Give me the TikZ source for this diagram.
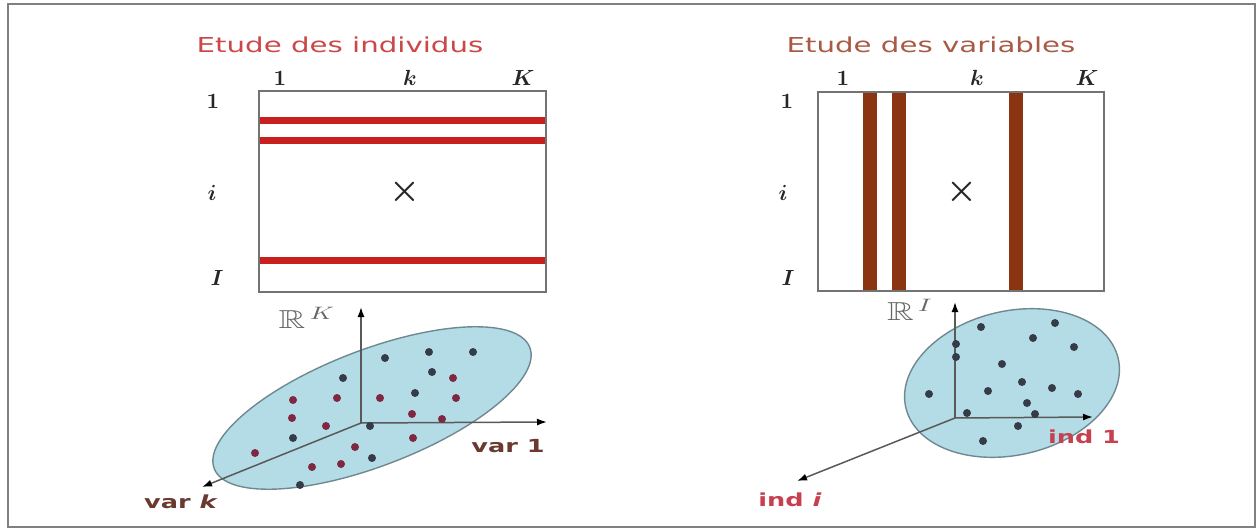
\documentclass[tikz,border=0pt]{standalone}
\usepackage{amsmath,amssymb,bm}
\usepackage{fontspec}
\setsansfont{DejaVu Sans}
\usetikzlibrary{arrows.meta}

\definecolor{titlered}{HTML}{CC4848}
\definecolor{titlebrown}{HTML}{A85A44}
\definecolor{rowred}{HTML}{C8201E}
\definecolor{colbrown}{HTML}{8A3412}
\definecolor{cloudblue}{HTML}{B4DCE6}
\definecolor{cloudedge}{HTML}{708890}
\definecolor{dotdark}{HTML}{353C48}
\definecolor{dotred}{HTML}{7E2842}
\definecolor{varbrown}{HTML}{6A3A30}
\definecolor{indred}{HTML}{C84050}
\newcommand{\wide}[1]{\scalebox{1.42}[1]{#1}}

\tikzset{
  title/.style={font=\sffamily\fontsize{10.3}{12}\selectfont, inner sep=0pt},
  axlabel/.style={font=\sffamily\bfseries\fontsize{9}{11}\selectfont, inner sep=0pt},
  idx/.style={font=\fontsize{11}{13}\selectfont, text=black!85, inner sep=0pt},
  space/.style={font=\fontsize{13}{15}\selectfont, text=black!60, inner sep=0pt},
  matbox/.style={draw=black!55, line width=0.8pt},
  axis/.style={draw=black!65, line width=0.75pt, -{Latex[length=5pt,width=3.5pt,color=black]}},
  cloud/.style={fill=cloudblue, draw=cloudedge, line width=0.7pt},
}

\begin{document}
\begin{tikzpicture}[x=0.5pt,y=-0.5pt]
\useasboundingbox (0,0) rectangle (1258,529);
\draw[black!50, line width=1.2pt] (8,4) rectangle (1255,527);
% titles
\node[title, text=titlered] (titleind) at (340,45) {\wide{Etude des individus}};
\node[title, text=titlebrown] (titlevar) at (931,45) {\wide{Etude des variables}};
% left table: rows picked
\foreach \yy in {121,141,261} {\fill[rowred] (259,\yy-3.5) rectangle (546,\yy+3.5);}
\draw[matbox] (259,91) rectangle (546,292);
\node[idx] (colA1) at (280,78) {$\bm{1}$};
\node[idx] (colAk) at (410,78) {$\bm{k}$};
\node[idx] (colAK) at (523,78) {$\bm{K}$};
\node[idx] (rowA1) at (213,101) {$\bm{1}$};
\node[idx] (rowAi) at (212,193) {$\bm{i}$};
\node[idx] (rowAI) at (217,278) {$\bm{I}$};
\node[idx, font=\fontsize{16}{18}\selectfont] (xA) at (405,192) {$\bm{\times}$};
% right table: columns picked
\foreach \xx in {870,899,1016} {\fill[colbrown] (\xx-7,92) rectangle (\xx+7,291);}
\draw[matbox] (818,92) rectangle (1104,291);
\node[idx] (colB1) at (843,78) {$\bm{1}$};
\node[idx] (colBk) at (977,78) {$\bm{k}$};
\node[idx] (colBK) at (1087,78) {$\bm{K}$};
\node[idx] (rowB1) at (787,101) {$\bm{1}$};
\node[idx] (rowBi) at (783,193) {$\bm{i}$};
\node[idx] (rowBI) at (788,278) {$\bm{I}$};
\node[idx, font=\fontsize{16}{18}\selectfont] (xB) at (962,192) {$\bm{\times}$};
% cloud of individuals in R^K
\path[cloud, rotate around={21:(372,408)}] (372,408) ellipse [x radius=169, y radius=58];
\coordinate (oA) at (361,423);
\coordinate (oAup) at (361,307);
\coordinate (oAone) at (547,422);
\coordinate (oAk) at (202,487);
\draw[axis] (oA) -- (oAup);
\draw[axis] (oA) -- (oAone);
\draw[axis] (oA) -- (oAk);
\foreach \px/\py/\cc in {385/358/dotdark,429/352/dotdark,473/352/dotdark,343/378/dotdark,
  432/372/dotdark,453/378/dotred,293/400/dotred,337/398/dotred,380/398/dotred,415/393/dotdark,
  456/398/dotred,292/418/dotred,326/426/dotred,412/414/dotred,442/419/dotred,370/426/dotdark,
  293/438/dotdark,413/438/dotred,255/453/dotred,355/447/dotred,372/458/dotdark,312/467/dotred,
  341/464/dotred,300/485/dotdark}
  {\fill[\cc] (\px,\py) circle (4);}
\node[space] (spaceK) at (307,318) {\wide{$\mathbb{R}^{\,K}$}};
\node[axlabel, text=varbrown] (varone) at (508,446) {\wide{var 1}};
\node[axlabel, text=varbrown] (vark) at (181,502) {\wide{var \textit{k}}};
% cloud of variables in R^I
\path[cloud, rotate around={13:(1012,383)}] (1012,383) ellipse [x radius=109, y radius=72];
\coordinate (oB) at (955,418);
\coordinate (oBup) at (955,302);
\coordinate (oBone) at (1093,417);
\coordinate (oBi) at (797,481);
\draw[axis] (oB) -- (oBup);
\draw[axis] (oB) -- (oBone);
\draw[axis] (oB) -- (oBi);
\foreach \px/\py in {981/327,1055/323,1033/338,1074/347,956/344,956/357,1002/364,1022/382,
  1052/388,988/391,929/394,1078/394,1027/403,967/413,1035/414,1018/426,983/441}
  {\fill[dotdark] (\px,\py) circle (4);}
\node[space] (spaceI) at (910,310) {\wide{$\mathbb{R}^{\,I}$}};
\node[axlabel, text=indred] (indone) at (1084,437) {\wide{ind 1}};
\node[axlabel, text=indred] (indi) at (790,500) {\wide{ind \textit{i}}};
\end{tikzpicture}
\end{document}
